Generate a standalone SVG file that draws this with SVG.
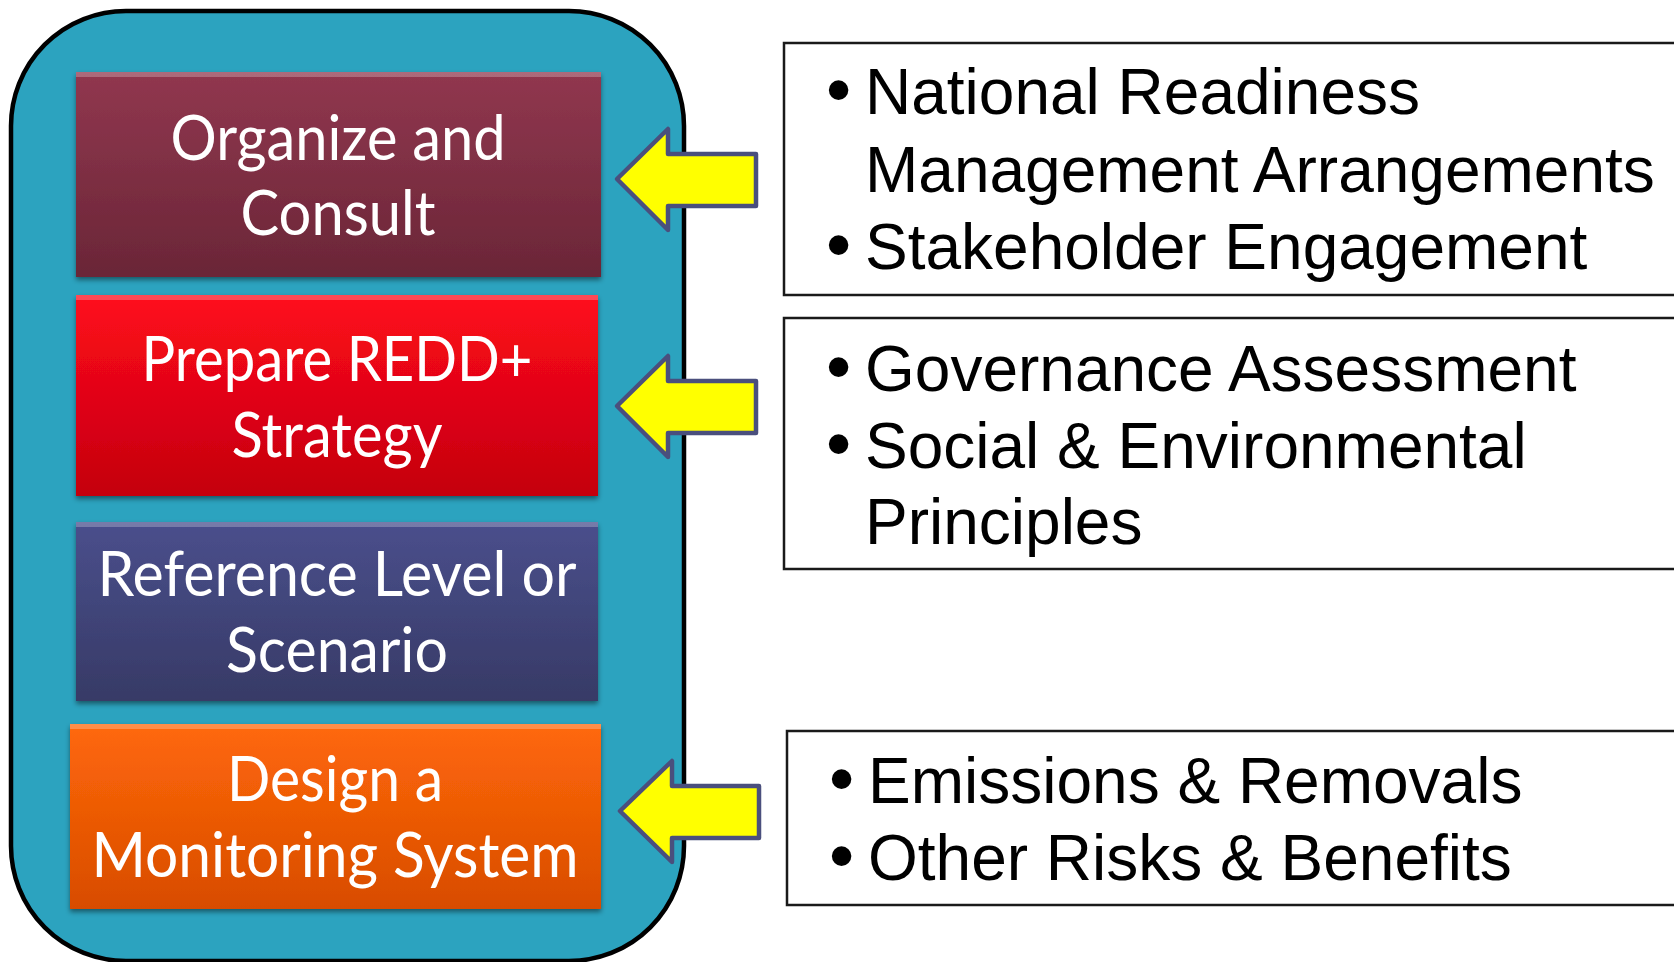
<svg xmlns="http://www.w3.org/2000/svg" width="1674" height="962" viewBox="0 0 1674 962">
  <defs>
    <linearGradient id="gMaroon" x1="0" y1="0" x2="0" y2="1">
      <stop offset="0" stop-color="#91374f"/>
      <stop offset="1" stop-color="#6a2637"/>
    </linearGradient>
    <linearGradient id="gRed" x1="0" y1="0" x2="0" y2="1">
      <stop offset="0" stop-color="#ff0a1c"/>
      <stop offset="1" stop-color="#c4000e"/>
    </linearGradient>
    <linearGradient id="gBlue" x1="0" y1="0" x2="0" y2="1">
      <stop offset="0" stop-color="#4a4f8c"/>
      <stop offset="1" stop-color="#373a66"/>
    </linearGradient>
    <linearGradient id="gOrange" x1="0" y1="0" x2="0" y2="1">
      <stop offset="0" stop-color="#ff680a"/>
      <stop offset="1" stop-color="#d84c00"/>
    </linearGradient>
    <filter id="shadow" x="-5%" y="-5%" width="110%" height="115%">
      <feDropShadow dx="0" dy="3" stdDeviation="2.5" flood-color="#000" flood-opacity="0.45"/>
    </filter>
    <style>
      .step { stroke: none; filter: url(#shadow); }
      .hl { fill: #ffffff; opacity: 0.25; }
      .lbl { font-family: Lato, "Open Sans", "Noto Sans", sans-serif; font-size: 62px; fill: #ffffff; text-anchor: middle; }
      .box { fill: #ffffff; stroke: #1a1a1a; stroke-width: 2.5; }
      .bt { font-family: "Liberation Sans", Arial, sans-serif; font-size: 64px; fill: #000000; }
      .bul { font-size: 72px; }
      .arrow { fill: #ffff00; stroke: #4a4f7d; stroke-width: 4.5; stroke-linejoin: round; }
    </style>
  </defs>

  <g id="container">
    <rect x="11" y="11" width="673" height="950" rx="115" ry="115" fill="#2ca3bf" stroke="#000000" stroke-width="4.5"/>
  </g>

  <g id="node-organize">
    <rect class="step" x="76" y="72" width="525" height="205" fill="url(#gMaroon)"/>
    <rect class="hl" x="76" y="72" width="525" height="5"/>
    <text class="lbl" x="338" y="160" textLength="335" lengthAdjust="spacingAndGlyphs">Organize and</text>
    <text class="lbl" x="338" y="235" textLength="195" lengthAdjust="spacingAndGlyphs">Consult</text>
  </g>

  <g id="node-prepare">
    <rect class="step" x="76" y="295" width="522" height="201" fill="url(#gRed)"/>
    <rect class="hl" x="76" y="295" width="522" height="5"/>
    <text class="lbl" x="337" y="381" textLength="391" lengthAdjust="spacingAndGlyphs">Prepare REDD+</text>
    <text class="lbl" x="337" y="457" textLength="211" lengthAdjust="spacingAndGlyphs">Strategy</text>
  </g>

  <g id="node-reference">
    <rect class="step" x="76" y="522" width="522" height="179" fill="url(#gBlue)"/>
    <rect class="hl" x="76" y="522" width="522" height="5"/>
    <text class="lbl" x="337" y="596" textLength="479" lengthAdjust="spacingAndGlyphs">Reference Level or</text>
    <text class="lbl" x="337" y="672" textLength="222" lengthAdjust="spacingAndGlyphs">Scenario</text>
  </g>

  <g id="node-design">
    <rect class="step" x="70" y="724" width="531" height="185" fill="url(#gOrange)"/>
    <rect class="hl" x="70" y="724" width="531" height="5"/>
    <text class="lbl" x="335" y="801" textLength="216" lengthAdjust="spacingAndGlyphs">Design a</text>
    <text class="lbl" x="335" y="877" textLength="487" lengthAdjust="spacingAndGlyphs">Monitoring System</text>
  </g>

  <g id="note-readiness">
    <rect class="box" x="784" y="43" width="900" height="252"/>
    <text class="bt" x="826" y="114"><tspan class="bul">•</tspan><tspan x="865">National Readiness</tspan></text>
    <text class="bt" x="865" y="192">Management Arrangements</text>
    <text class="bt" x="826" y="269"><tspan class="bul">•</tspan><tspan x="865">Stakeholder Engagement</tspan></text>
  </g>

  <g id="note-strategy">
    <rect class="box" x="784" y="318" width="900" height="251"/>
    <text class="bt" x="826" y="391"><tspan class="bul">•</tspan><tspan x="865">Governance Assessment</tspan></text>
    <text class="bt" x="826" y="468"><tspan class="bul">•</tspan><tspan x="865">Social &amp; Environmental</tspan></text>
    <text class="bt" x="865" y="544">Principles</text>
  </g>

  <g id="note-monitoring">
    <rect class="box" x="787" y="731" width="900" height="174"/>
    <text class="bt" x="829" y="803"><tspan class="bul">•</tspan><tspan x="868">Emissions &amp; Removals</tspan></text>
    <text class="bt" x="829" y="880"><tspan class="bul">•</tspan><tspan x="868">Other Risks &amp; Benefits</tspan></text>
  </g>

  <g id="connectors">
    <path class="arrow" d="M617,179 L668,129 L668,154 L756,154 L756,206 L668,206 L668,230 Z"/>
    <path class="arrow" d="M617,406 L668,356 L668,381 L756,381 L756,433 L668,433 L668,457 Z"/>
    <path class="arrow" d="M620,811 L672,761 L672,786 L759,786 L759,838 L672,838 L672,862 Z"/>
  </g>
</svg>
